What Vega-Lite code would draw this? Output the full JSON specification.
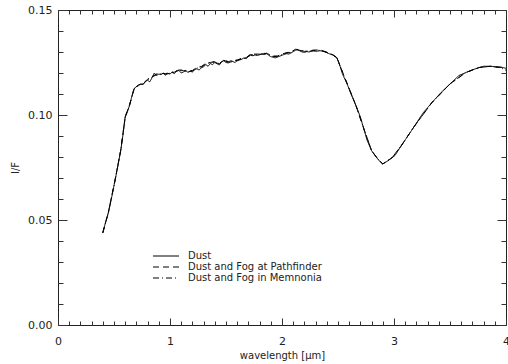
{
  "$schema": "https://vega.github.io/schema/vega-lite/v6.json",
  "width": 448,
  "height": 315,
  "autosize": "none",
  "padding": {"left": 58, "top": 10, "right": 2, "bottom": 39},
  "background": "white",
  "config": {
    "view": {"stroke": "#222", "strokeWidth": 1},
    "font": "DejaVu Sans",
    "axis": {"domain": false, "grid": false, "labelColor": "#222", "tickColor": "#333", "titleColor": "#222", "labelFont": "DejaVu Sans", "titleFont": "DejaVu Sans", "labelFontSize": 11, "titleFontSize": 10, "titleFontWeight": "normal", "labelFlush": false, "labelOverlap": false}
  },
  "data": {"values": [
    {"s":"Dust","w":0.40,"r":0.0438},{"s":"Dust","w":0.42,"r":0.0480},{"s":"Dust","w":0.45,"r":0.0535},{"s":"Dust","w":0.48,"r":0.0610},{"s":"Dust","w":0.51,"r":0.0690},{"s":"Dust","w":0.53,"r":0.0745},{"s":"Dust","w":0.56,"r":0.0830},{"s":"Dust","w":0.58,"r":0.0905},{"s":"Dust","w":0.60,"r":0.0990},{"s":"Dust","w":0.62,"r":0.1015},{"s":"Dust","w":0.64,"r":0.1048},{"s":"Dust","w":0.66,"r":0.1090},{"s":"Dust","w":0.68,"r":0.1124},{"s":"Dust","w":0.70,"r":0.1135},{"s":"Dust","w":0.72,"r":0.1140},{"s":"Dust","w":0.74,"r":0.1148},{"s":"Dust","w":0.76,"r":0.1145},{"s":"Dust","w":0.78,"r":0.1160},{"s":"Dust","w":0.80,"r":0.1165},{"s":"Dust","w":0.82,"r":0.1158},{"s":"Dust","w":0.84,"r":0.1178},{"s":"Dust","w":0.86,"r":0.1200},{"s":"Dust","w":0.88,"r":0.1188},{"s":"Dust","w":0.90,"r":0.1195},{"s":"Dust","w":0.92,"r":0.1192},{"s":"Dust","w":0.94,"r":0.1200},{"s":"Dust","w":0.96,"r":0.1190},{"s":"Dust","w":0.98,"r":0.1198},{"s":"Dust","w":1.00,"r":0.1195},{"s":"Dust","w":1.02,"r":0.1205},{"s":"Dust","w":1.04,"r":0.1197},{"s":"Dust","w":1.06,"r":0.1210},{"s":"Dust","w":1.08,"r":0.1212},{"s":"Dust","w":1.10,"r":0.1200},{"s":"Dust","w":1.12,"r":0.1205},{"s":"Dust","w":1.14,"r":0.1212},{"s":"Dust","w":1.16,"r":0.1203},{"s":"Dust","w":1.18,"r":0.1208},{"s":"Dust","w":1.20,"r":0.1205},{"s":"Dust","w":1.22,"r":0.1215},{"s":"Dust","w":1.24,"r":0.1220},{"s":"Dust","w":1.26,"r":0.1214},{"s":"Dust","w":1.28,"r":0.1225},{"s":"Dust","w":1.30,"r":0.1230},{"s":"Dust","w":1.32,"r":0.1240},{"s":"Dust","w":1.34,"r":0.1232},{"s":"Dust","w":1.36,"r":0.1245},{"s":"Dust","w":1.38,"r":0.1240},{"s":"Dust","w":1.40,"r":0.1250},{"s":"Dust","w":1.42,"r":0.1244},{"s":"Dust","w":1.44,"r":0.1238},{"s":"Dust","w":1.46,"r":0.1252},{"s":"Dust","w":1.48,"r":0.1258},{"s":"Dust","w":1.50,"r":0.1250},{"s":"Dust","w":1.52,"r":0.1248},{"s":"Dust","w":1.54,"r":0.1252},{"s":"Dust","w":1.56,"r":0.1255},{"s":"Dust","w":1.58,"r":0.1250},{"s":"Dust","w":1.60,"r":0.1258},{"s":"Dust","w":1.62,"r":0.1262},{"s":"Dust","w":1.64,"r":0.1265},{"s":"Dust","w":1.66,"r":0.1272},{"s":"Dust","w":1.68,"r":0.1268},{"s":"Dust","w":1.70,"r":0.1278},{"s":"Dust","w":1.72,"r":0.1285},{"s":"Dust","w":1.74,"r":0.1282},{"s":"Dust","w":1.76,"r":0.1286},{"s":"Dust","w":1.78,"r":0.1283},{"s":"Dust","w":1.80,"r":0.1287},{"s":"Dust","w":1.82,"r":0.1292},{"s":"Dust","w":1.84,"r":0.1288},{"s":"Dust","w":1.86,"r":0.1295},{"s":"Dust","w":1.88,"r":0.1285},{"s":"Dust","w":1.90,"r":0.1278},{"s":"Dust","w":1.92,"r":0.1275},{"s":"Dust","w":1.94,"r":0.1272},{"s":"Dust","w":1.96,"r":0.1276},{"s":"Dust","w":1.98,"r":0.1280},{"s":"Dust","w":2.00,"r":0.1285},{"s":"Dust","w":2.02,"r":0.1288},{"s":"Dust","w":2.04,"r":0.1292},{"s":"Dust","w":2.06,"r":0.1290},{"s":"Dust","w":2.08,"r":0.1295},{"s":"Dust","w":2.10,"r":0.1302},{"s":"Dust","w":2.12,"r":0.1308},{"s":"Dust","w":2.14,"r":0.1312},{"s":"Dust","w":2.16,"r":0.1305},{"s":"Dust","w":2.18,"r":0.1300},{"s":"Dust","w":2.20,"r":0.1298},{"s":"Dust","w":2.22,"r":0.1302},{"s":"Dust","w":2.24,"r":0.1300},{"s":"Dust","w":2.26,"r":0.1303},{"s":"Dust","w":2.28,"r":0.1305},{"s":"Dust","w":2.30,"r":0.1303},{"s":"Dust","w":2.34,"r":0.1306},{"s":"Dust","w":2.38,"r":0.1302},{"s":"Dust","w":2.42,"r":0.1292},{"s":"Dust","w":2.46,"r":0.1285},{"s":"Dust","w":2.49,"r":0.1272},{"s":"Dust","w":2.52,"r":0.1230},{"s":"Dust","w":2.54,"r":0.1195},{"s":"Dust","w":2.58,"r":0.1150},{"s":"Dust","w":2.62,"r":0.1095},{"s":"Dust","w":2.66,"r":0.1045},{"s":"Dust","w":2.70,"r":0.0990},{"s":"Dust","w":2.73,"r":0.0935},{"s":"Dust","w":2.76,"r":0.0880},{"s":"Dust","w":2.80,"r":0.0830},{"s":"Dust","w":2.84,"r":0.0800},{"s":"Dust","w":2.88,"r":0.0775},{"s":"Dust","w":2.90,"r":0.0767},{"s":"Dust","w":2.94,"r":0.0780},{"s":"Dust","w":2.98,"r":0.0795},{"s":"Dust","w":3.01,"r":0.0808},{"s":"Dust","w":3.06,"r":0.0850},{"s":"Dust","w":3.12,"r":0.0897},{"s":"Dust","w":3.18,"r":0.0945},{"s":"Dust","w":3.26,"r":0.1010},{"s":"Dust","w":3.34,"r":0.1060},{"s":"Dust","w":3.42,"r":0.1107},{"s":"Dust","w":3.50,"r":0.1148},{"s":"Dust","w":3.58,"r":0.1188},{"s":"Dust","w":3.64,"r":0.1202},{"s":"Dust","w":3.70,"r":0.1215},{"s":"Dust","w":3.76,"r":0.1226},{"s":"Dust","w":3.80,"r":0.1232},{"s":"Dust","w":3.86,"r":0.1232},{"s":"Dust","w":3.92,"r":0.1230},{"s":"Dust","w":3.96,"r":0.1228},{"s":"Dust","w":4.00,"r":0.1222},
    {"s":"Dust and Fog at Pathfinder","w":0.40,"r":0.0440},{"s":"Dust and Fog at Pathfinder","w":0.45,"r":0.0537},{"s":"Dust and Fog at Pathfinder","w":0.51,"r":0.0692},{"s":"Dust and Fog at Pathfinder","w":0.56,"r":0.0832},{"s":"Dust and Fog at Pathfinder","w":0.60,"r":0.0992},{"s":"Dust and Fog at Pathfinder","w":0.64,"r":0.1050},{"s":"Dust and Fog at Pathfinder","w":0.68,"r":0.1127},{"s":"Dust and Fog at Pathfinder","w":0.72,"r":0.1144},{"s":"Dust and Fog at Pathfinder","w":0.76,"r":0.1150},{"s":"Dust and Fog at Pathfinder","w":0.80,"r":0.1170},{"s":"Dust and Fog at Pathfinder","w":0.84,"r":0.1183},{"s":"Dust and Fog at Pathfinder","w":0.88,"r":0.1195},{"s":"Dust and Fog at Pathfinder","w":0.92,"r":0.1198},{"s":"Dust and Fog at Pathfinder","w":0.96,"r":0.1197},{"s":"Dust and Fog at Pathfinder","w":1.00,"r":0.1202},{"s":"Dust and Fog at Pathfinder","w":1.04,"r":0.1204},{"s":"Dust and Fog at Pathfinder","w":1.08,"r":0.1218},{"s":"Dust and Fog at Pathfinder","w":1.12,"r":0.1211},{"s":"Dust and Fog at Pathfinder","w":1.16,"r":0.1210},{"s":"Dust and Fog at Pathfinder","w":1.20,"r":0.1212},{"s":"Dust and Fog at Pathfinder","w":1.24,"r":0.1226},{"s":"Dust and Fog at Pathfinder","w":1.28,"r":0.1231},{"s":"Dust and Fog at Pathfinder","w":1.32,"r":0.1246},{"s":"Dust and Fog at Pathfinder","w":1.36,"r":0.1250},{"s":"Dust and Fog at Pathfinder","w":1.40,"r":0.1255},{"s":"Dust and Fog at Pathfinder","w":1.44,"r":0.1244},{"s":"Dust and Fog at Pathfinder","w":1.48,"r":0.1263},{"s":"Dust and Fog at Pathfinder","w":1.52,"r":0.1254},{"s":"Dust and Fog at Pathfinder","w":1.56,"r":0.1260},{"s":"Dust and Fog at Pathfinder","w":1.60,"r":0.1262},{"s":"Dust and Fog at Pathfinder","w":1.64,"r":0.1270},{"s":"Dust and Fog at Pathfinder","w":1.68,"r":0.1273},{"s":"Dust and Fog at Pathfinder","w":1.72,"r":0.1290},{"s":"Dust and Fog at Pathfinder","w":1.76,"r":0.1290},{"s":"Dust and Fog at Pathfinder","w":1.80,"r":0.1290},{"s":"Dust and Fog at Pathfinder","w":1.84,"r":0.1294},{"s":"Dust and Fog at Pathfinder","w":1.88,"r":0.1290},{"s":"Dust and Fog at Pathfinder","w":1.92,"r":0.1281},{"s":"Dust and Fog at Pathfinder","w":1.96,"r":0.1281},{"s":"Dust and Fog at Pathfinder","w":2.00,"r":0.1290},{"s":"Dust and Fog at Pathfinder","w":2.04,"r":0.1297},{"s":"Dust and Fog at Pathfinder","w":2.08,"r":0.1300},{"s":"Dust and Fog at Pathfinder","w":2.12,"r":0.1313},{"s":"Dust and Fog at Pathfinder","w":2.16,"r":0.1310},{"s":"Dust and Fog at Pathfinder","w":2.20,"r":0.1303},{"s":"Dust and Fog at Pathfinder","w":2.24,"r":0.1305},{"s":"Dust and Fog at Pathfinder","w":2.28,"r":0.1309},{"s":"Dust and Fog at Pathfinder","w":2.34,"r":0.1310},{"s":"Dust and Fog at Pathfinder","w":2.42,"r":0.1296},{"s":"Dust and Fog at Pathfinder","w":2.49,"r":0.1275},{"s":"Dust and Fog at Pathfinder","w":2.52,"r":0.1232},{"s":"Dust and Fog at Pathfinder","w":2.58,"r":0.1152},{"s":"Dust and Fog at Pathfinder","w":2.66,"r":0.1046},{"s":"Dust and Fog at Pathfinder","w":2.73,"r":0.0936},{"s":"Dust and Fog at Pathfinder","w":2.80,"r":0.0830},{"s":"Dust and Fog at Pathfinder","w":2.86,"r":0.0788},{"s":"Dust and Fog at Pathfinder","w":2.90,"r":0.0767},{"s":"Dust and Fog at Pathfinder","w":2.98,"r":0.0796},{"s":"Dust and Fog at Pathfinder","w":3.06,"r":0.0850},{"s":"Dust and Fog at Pathfinder","w":3.18,"r":0.0945},{"s":"Dust and Fog at Pathfinder","w":3.34,"r":0.1060},{"s":"Dust and Fog at Pathfinder","w":3.50,"r":0.1148},{"s":"Dust and Fog at Pathfinder","w":3.64,"r":0.1202},{"s":"Dust and Fog at Pathfinder","w":3.76,"r":0.1226},{"s":"Dust and Fog at Pathfinder","w":3.86,"r":0.1232},{"s":"Dust and Fog at Pathfinder","w":3.96,"r":0.1226},{"s":"Dust and Fog at Pathfinder","w":4.00,"r":0.1215},
    {"s":"Dust and Fog in Memnonia","w":0.40,"r":0.0439},{"s":"Dust and Fog in Memnonia","w":0.45,"r":0.0536},{"s":"Dust and Fog in Memnonia","w":0.51,"r":0.0691},{"s":"Dust and Fog in Memnonia","w":0.56,"r":0.0831},{"s":"Dust and Fog in Memnonia","w":0.60,"r":0.0991},{"s":"Dust and Fog in Memnonia","w":0.64,"r":0.1049},{"s":"Dust and Fog in Memnonia","w":0.68,"r":0.1126},{"s":"Dust and Fog in Memnonia","w":0.72,"r":0.1142},{"s":"Dust and Fog in Memnonia","w":0.76,"r":0.1148},{"s":"Dust and Fog in Memnonia","w":0.80,"r":0.1168},{"s":"Dust and Fog in Memnonia","w":0.84,"r":0.1181},{"s":"Dust and Fog in Memnonia","w":0.88,"r":0.1192},{"s":"Dust and Fog in Memnonia","w":0.92,"r":0.1196},{"s":"Dust and Fog in Memnonia","w":0.96,"r":0.1194},{"s":"Dust and Fog in Memnonia","w":1.00,"r":0.1199},{"s":"Dust and Fog in Memnonia","w":1.04,"r":0.1201},{"s":"Dust and Fog in Memnonia","w":1.08,"r":0.1215},{"s":"Dust and Fog in Memnonia","w":1.12,"r":0.1208},{"s":"Dust and Fog in Memnonia","w":1.16,"r":0.1207},{"s":"Dust and Fog in Memnonia","w":1.20,"r":0.1209},{"s":"Dust and Fog in Memnonia","w":1.24,"r":0.1223},{"s":"Dust and Fog in Memnonia","w":1.28,"r":0.1228},{"s":"Dust and Fog in Memnonia","w":1.32,"r":0.1243},{"s":"Dust and Fog in Memnonia","w":1.36,"r":0.1248},{"s":"Dust and Fog in Memnonia","w":1.40,"r":0.1253},{"s":"Dust and Fog in Memnonia","w":1.44,"r":0.1241},{"s":"Dust and Fog in Memnonia","w":1.48,"r":0.1261},{"s":"Dust and Fog in Memnonia","w":1.52,"r":0.1251},{"s":"Dust and Fog in Memnonia","w":1.56,"r":0.1258},{"s":"Dust and Fog in Memnonia","w":1.60,"r":0.1260},{"s":"Dust and Fog in Memnonia","w":1.64,"r":0.1268},{"s":"Dust and Fog in Memnonia","w":1.68,"r":0.1271},{"s":"Dust and Fog in Memnonia","w":1.72,"r":0.1287},{"s":"Dust and Fog in Memnonia","w":1.76,"r":0.1287},{"s":"Dust and Fog in Memnonia","w":1.80,"r":0.1288},{"s":"Dust and Fog in Memnonia","w":1.84,"r":0.1291},{"s":"Dust and Fog in Memnonia","w":1.88,"r":0.1288},{"s":"Dust and Fog in Memnonia","w":1.92,"r":0.1278},{"s":"Dust and Fog in Memnonia","w":1.96,"r":0.1279},{"s":"Dust and Fog in Memnonia","w":2.00,"r":0.1287},{"s":"Dust and Fog in Memnonia","w":2.04,"r":0.1295},{"s":"Dust and Fog in Memnonia","w":2.08,"r":0.1298},{"s":"Dust and Fog in Memnonia","w":2.12,"r":0.1311},{"s":"Dust and Fog in Memnonia","w":2.16,"r":0.1308},{"s":"Dust and Fog in Memnonia","w":2.20,"r":0.1301},{"s":"Dust and Fog in Memnonia","w":2.24,"r":0.1303},{"s":"Dust and Fog in Memnonia","w":2.28,"r":0.1307},{"s":"Dust and Fog in Memnonia","w":2.34,"r":0.1308},{"s":"Dust and Fog in Memnonia","w":2.42,"r":0.1294},{"s":"Dust and Fog in Memnonia","w":2.49,"r":0.1273},{"s":"Dust and Fog in Memnonia","w":2.52,"r":0.1231},{"s":"Dust and Fog in Memnonia","w":2.58,"r":0.1151},{"s":"Dust and Fog in Memnonia","w":2.66,"r":0.1045},{"s":"Dust and Fog in Memnonia","w":2.73,"r":0.0935},{"s":"Dust and Fog in Memnonia","w":2.80,"r":0.0830},{"s":"Dust and Fog in Memnonia","w":2.86,"r":0.0788},{"s":"Dust and Fog in Memnonia","w":2.90,"r":0.0767},{"s":"Dust and Fog in Memnonia","w":2.98,"r":0.0795},{"s":"Dust and Fog in Memnonia","w":3.06,"r":0.0850},{"s":"Dust and Fog in Memnonia","w":3.18,"r":0.0945},{"s":"Dust and Fog in Memnonia","w":3.34,"r":0.1060},{"s":"Dust and Fog in Memnonia","w":3.50,"r":0.1148},{"s":"Dust and Fog in Memnonia","w":3.64,"r":0.1202},{"s":"Dust and Fog in Memnonia","w":3.76,"r":0.1226},{"s":"Dust and Fog in Memnonia","w":3.86,"r":0.1232},{"s":"Dust and Fog in Memnonia","w":3.96,"r":0.1224},{"s":"Dust and Fog in Memnonia","w":4.00,"r":0.1210}
  ]},
  "resolve": {"axis": {"x": "independent", "y": "independent"}},
  "layer": [
    {
      "mark": {"type": "line", "color": "black", "strokeWidth": 1, "strokeCap": "butt"},
      "encoding": {
        "x": {"field": "w", "type": "quantitative", "scale": {"domain": [0, 4], "nice": false, "zero": false},
              "axis": {"orient": "bottom", "values": [0, 1, 2, 3, 4], "format": "d", "tickSize": -7, "labelPadding": 17, "title": "wavelength [μm]", "titlePadding": 4}},
        "y": {"field": "r", "type": "quantitative", "scale": {"domain": [0, 0.15], "nice": false, "zero": false},
              "axis": {"orient": "left", "values": [0, 0.05, 0.1, 0.15], "format": ".2f", "tickSize": -9, "labelPadding": 15, "title": "I/F", "titlePadding": 7}},
        "strokeDash": {"field": "s", "type": "nominal",
          "scale": {"domain": ["Dust", "Dust and Fog at Pathfinder", "Dust and Fog in Memnonia"], "range": [[1, 0], [6, 4], [6, 3, 1, 3]]},
          "legend": {"orient": "none", "legendX": 103, "legendY": 241, "title": null, "padding": 0, "symbolType": "M-4,0H4", "symbolSize": 42.25, "symbolStrokeWidth": 1, "symbolStrokeColor": "black", "symbolFillColor": "transparent", "labelFont": "DejaVu Sans", "labelFontSize": 10, "labelColor": "#222", "labelOffset": 17, "rowPadding": 1, "labelLimit": 0}}
      }
    },
    {
      "mark": {"type": "point", "opacity": 0},
      "encoding": {
        "x": {"field": "w", "type": "quantitative", "axis": {"orient": "bottom", "values": [0.1,0.2,0.3,0.4,0.5,0.6,0.7,0.8,0.9,1.1,1.2,1.3,1.4,1.5,1.6,1.7,1.8,1.9,2.1,2.2,2.3,2.4,2.5,2.6,2.7,2.8,2.9,3.1,3.2,3.3,3.4,3.5,3.6,3.7,3.8,3.9], "tickSize": -4, "labels": false, "title": null}},
        "y": {"field": "r", "type": "quantitative", "axis": {"orient": "left", "values": [0.01,0.02,0.03,0.04,0.06,0.07,0.08,0.09,0.11,0.12,0.13,0.14], "tickSize": -5, "labels": false, "title": null}}
      }
    },
    {
      "mark": {"type": "point", "opacity": 0},
      "encoding": {
        "x": {"field": "w", "type": "quantitative", "axis": {"orient": "top", "values": [0, 1, 2, 3, 4], "tickSize": -7, "labels": false, "title": null}},
        "y": {"field": "r", "type": "quantitative", "axis": {"orient": "right", "values": [0, 0.05, 0.1, 0.15], "tickSize": -9, "labels": false, "title": null}}
      }
    },
    {
      "mark": {"type": "point", "opacity": 0},
      "encoding": {
        "x": {"field": "w", "type": "quantitative", "axis": {"orient": "top", "values": [0.1,0.2,0.3,0.4,0.5,0.6,0.7,0.8,0.9,1.1,1.2,1.3,1.4,1.5,1.6,1.7,1.8,1.9,2.1,2.2,2.3,2.4,2.5,2.6,2.7,2.8,2.9,3.1,3.2,3.3,3.4,3.5,3.6,3.7,3.8,3.9], "tickSize": -4, "labels": false, "title": null}},
        "y": {"field": "r", "type": "quantitative", "axis": {"orient": "right", "values": [0.01,0.02,0.03,0.04,0.06,0.07,0.08,0.09,0.11,0.12,0.13,0.14], "tickSize": -5, "labels": false, "title": null}}
      }
    }
  ]
}
